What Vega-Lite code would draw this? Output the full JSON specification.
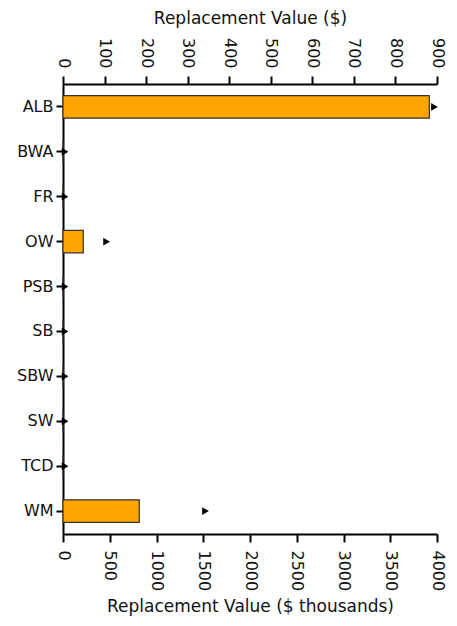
{
  "$schema": "https://vega.github.io/schema/vega-lite/v6.json",
  "autosize": "none",
  "width": 374,
  "height": 450,
  "padding": {"left": 63, "top": 84, "right": 20, "bottom": 92},
  "background": "white",
  "data": {"values": [
    {"cat": "ALB", "thousands": 3918, "dollars": 894},
    {"cat": "BWA", "thousands": 0, "dollars": 5},
    {"cat": "FR", "thousands": 0, "dollars": 5},
    {"cat": "OW", "thousands": 217, "dollars": 105},
    {"cat": "PSB", "thousands": 0, "dollars": 5},
    {"cat": "SB", "thousands": 0, "dollars": 5},
    {"cat": "SBW", "thousands": 0, "dollars": 5},
    {"cat": "SW", "thousands": 0, "dollars": 5},
    {"cat": "TCD", "thousands": 0, "dollars": 5},
    {"cat": "WM", "thousands": 816, "dollars": 343}
  ]},
  "config": {
    "view": {"stroke": null},
    "font": "DejaVu Sans",
    "axis": {
      "domainColor": "black", "domainWidth": 2, "tickColor": "black", "tickWidth": 2, "tickSize": 8,
      "labelFont": "DejaVu Sans", "labelFontSize": 16, "labelColor": "#111",
      "titleFont": "DejaVu Sans", "titleFontSize": 17, "titleFontWeight": "normal", "titleColor": "#111",
      "grid": false
    }
  },
  "encoding": {
    "y": {"field": "cat", "type": "nominal", "sort": null,
      "scale": {"paddingInner": 0.5, "paddingOuter": 0.26},
      "axis": {"title": null, "labelPadding": 3, "tickSize": 7}}
  },
  "layer": [
    {
      "mark": {"type": "bar", "color": "#FFA500", "stroke": "#333", "strokeWidth": 1.2},
      "encoding": {
        "x": {"field": "thousands", "type": "quantitative",
          "scale": {"domain": [0, 4000], "nice": false},
          "axis": {"orient": "bottom", "title": "Replacement Value ($ thousands)", "values": [0,500,1000,1500,2000,2500,3000,3500,4000], "format": "d",
            "labelAngle": 90, "labelAlign": "left", "labelBaseline": "middle", "labelPadding": 8, "titlePadding": 8}}
      }
    },
    {
      "mark": {"type": "point", "shape": "triangle-right", "filled": true, "color": "black", "size": 60, "opacity": 1},
      "encoding": {
        "x": {"field": "dollars", "type": "quantitative",
          "scale": {"domain": [0, 900], "nice": false},
          "axis": {"orient": "top", "title": "Replacement Value ($)", "values": [0,100,200,300,400,500,600,700,800,900], "format": "d",
            "labelAngle": 90, "labelAlign": "right", "labelBaseline": "middle", "labelPadding": 8, "titlePadding": 10}}
      }
    }
  ],
  "resolve": {"scale": {"x": "independent"}}
}
